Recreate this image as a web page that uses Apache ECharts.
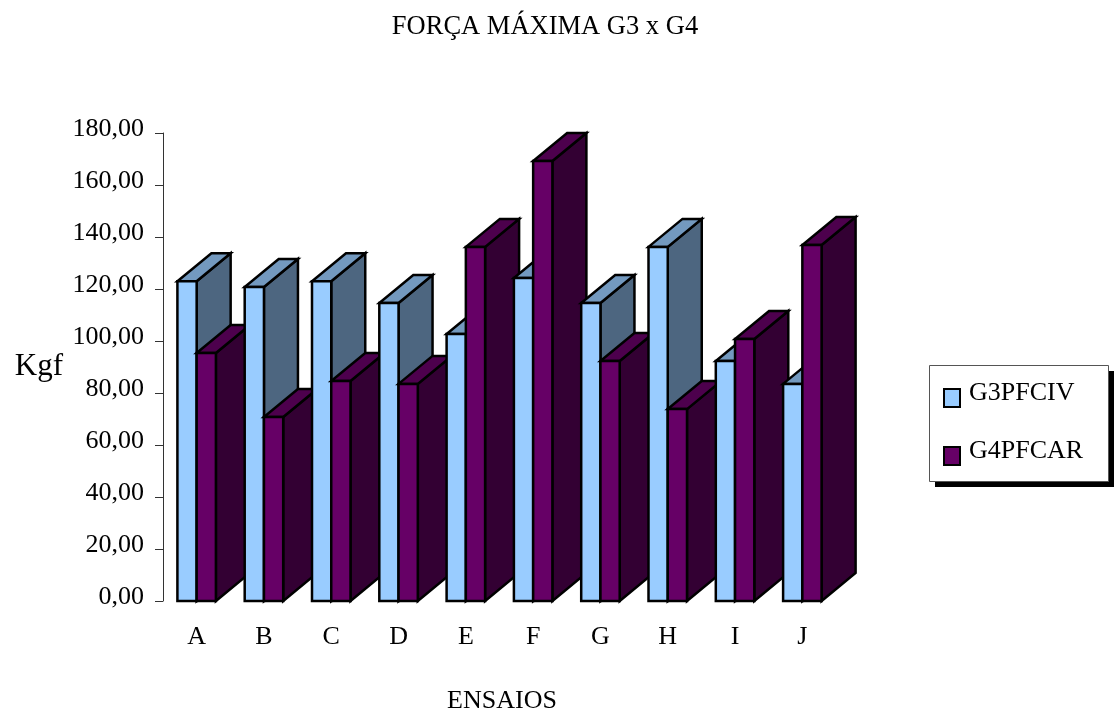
<!DOCTYPE html>
<html>
<head>
<meta charset="utf-8">
<style>html,body{margin:0;padding:0;background:#fff}#chart{width:1116px;height:715px}</style>
<script src="https://cdn.jsdelivr.net/npm/echarts@6/dist/echarts.min.js"></script>
</head>
<body>
<div id="chart"></div>
<script>
const categories = ['A', 'B', 'C', 'D', 'E', 'F', 'G', 'H', 'I', 'J'];
const g3pfciv = [123.0, 120.8, 123.0, 114.6, 102.7, 124.2, 114.6, 136.2, 92.3, 83.5];
const g4pfcar = [95.4, 70.8, 84.6, 83.5, 136.2, 169.2, 92.3, 73.8, 100.8, 136.9];

const FONT = '"Liberation Serif", "Times New Roman", serif';
const DEPTH_X = 34, DEPTH_Y = 28, BAR_SHARE = 0.286;

// Pseudo-3D column: side and top faces extruded up and to the right of the front face.
function columnRenderer(slot, front, top, side) {
  return function (params, api) {
    const cat = api.value(0);
    const base = api.coord([cat, 0]);
    const head = api.coord([cat, api.value(1)]);
    const w = api.size([1, 0])[0] * BAR_SHARE;
    const x0 = base[0] - w + slot * w, x1 = x0 + w;
    const yB = base[1], yT = head[1];
    const stroke = { stroke: '#000', lineWidth: 2.5, lineJoin: 'miter' };
    const z2 = cat * 2 + slot;
    const face = (points, fill) => ({
      type: 'polygon', z2,
      shape: { points },
      style: Object.assign({ fill }, stroke)
    });
    return {
      type: 'group',
      children: [
        face([[x1, yB], [x1 + DEPTH_X, yB - DEPTH_Y], [x1 + DEPTH_X, yT - DEPTH_Y], [x1, yT]], side),
        face([[x0, yT], [x1, yT], [x1 + DEPTH_X, yT - DEPTH_Y], [x0 + DEPTH_X, yT - DEPTH_Y]], top),
        face([[x0, yB], [x1, yB], [x1, yT], [x0, yT]], front)
      ]
    };
  };
}

function columnSeries(name, values, slot, front, top, side) {
  return {
    name, type: 'custom',
    renderItem: columnRenderer(slot, front, top, side),
    data: values.map((v, i) => [i, v]),
    encode: { x: 0, y: 1 },
    itemStyle: { color: front, borderColor: '#000', borderWidth: 2 },
    clip: false
  };
}

const chart = echarts.init(document.getElementById('chart'), null, { renderer: 'canvas' });
chart.setOption({
  animation: false,
  backgroundColor: '#fff',
  textStyle: { fontFamily: FONT, color: '#000' },
  title: {
    text: 'FORÇA MÁXIMA G3 x G4',
    left: 540, top: 9, textAlign: 'center',
    textStyle: { fontFamily: FONT, fontSize: 26.5, fontWeight: 'normal', color: '#000' }
  },
  grid: { left: 163, top: 133, width: 673, height: 468, outerBoundsMode: 'none' },
  xAxis: {
    type: 'category', data: categories,
    axisLine: { show: false }, axisTick: { show: false }, splitLine: { show: false },
    axisLabel: { fontFamily: FONT, fontSize: 26, color: '#000', margin: 23 },
    name: 'ENSAIOS', nameLocation: 'middle', nameGap: 87,
    nameTextStyle: { fontFamily: FONT, fontSize: 26, color: '#000', padding: [0, 0, 0, 5] }
  },
  yAxis: {
    type: 'value', min: 0, max: 180, interval: 20,
    axisLine: { show: true, lineStyle: { color: '#333', width: 1 } },
    axisTick: { show: true, length: 8, lineStyle: { color: '#333', width: 1 } },
    splitLine: { show: false },
    axisLabel: {
      fontFamily: FONT, fontSize: 26, color: '#000', margin: 19,
      // A short line box anchored at its bottom lifts the digits slightly above each tick.
      verticalAlign: 'bottom', lineHeight: 8,
      formatter: v => v.toFixed(2).replace('.', ',')
    },
    name: 'Kgf', nameLocation: 'middle', nameRotate: 0, nameGap: 100,
    nameTextStyle: { fontFamily: FONT, fontSize: 31, color: '#000' }
  },
  graphic: [
    { type: 'rect', z: 0, shape: { x: 935, y: 371, width: 179, height: 116 }, style: { fill: '#000' } },
    { type: 'rect', z: 1, shape: { x: 929.5, y: 365.5, width: 179, height: 116 }, style: { fill: '#fff', stroke: '#555', lineWidth: 1 } }
  ],
  legend: {
    orient: 'vertical', left: 943, top: 378, padding: 0,
    // Swatch sits in the lower part of its 28px box, so it rests just below the text's centre.
    icon: 'path://M0 0L0 0M0 10L16 10L16 28L0 28Z',
    symbolKeepAspect: false,
    itemWidth: 16, itemHeight: 28, itemGap: 28,
    textStyle: { fontFamily: FONT, fontSize: 26, color: '#000', padding: [0, 0, 0, 4] },
    data: ['G3PFCIV', 'G4PFCAR']
  },
  series: [
    columnSeries('G3PFCIV', g3pfciv, 0, '#99CCFF', '#7399BF', '#4D6680'),
    columnSeries('G4PFCAR', g4pfcar, 1, '#660066', '#4D004D', '#330033')
  ]
});
</script>
</body>
</html>
